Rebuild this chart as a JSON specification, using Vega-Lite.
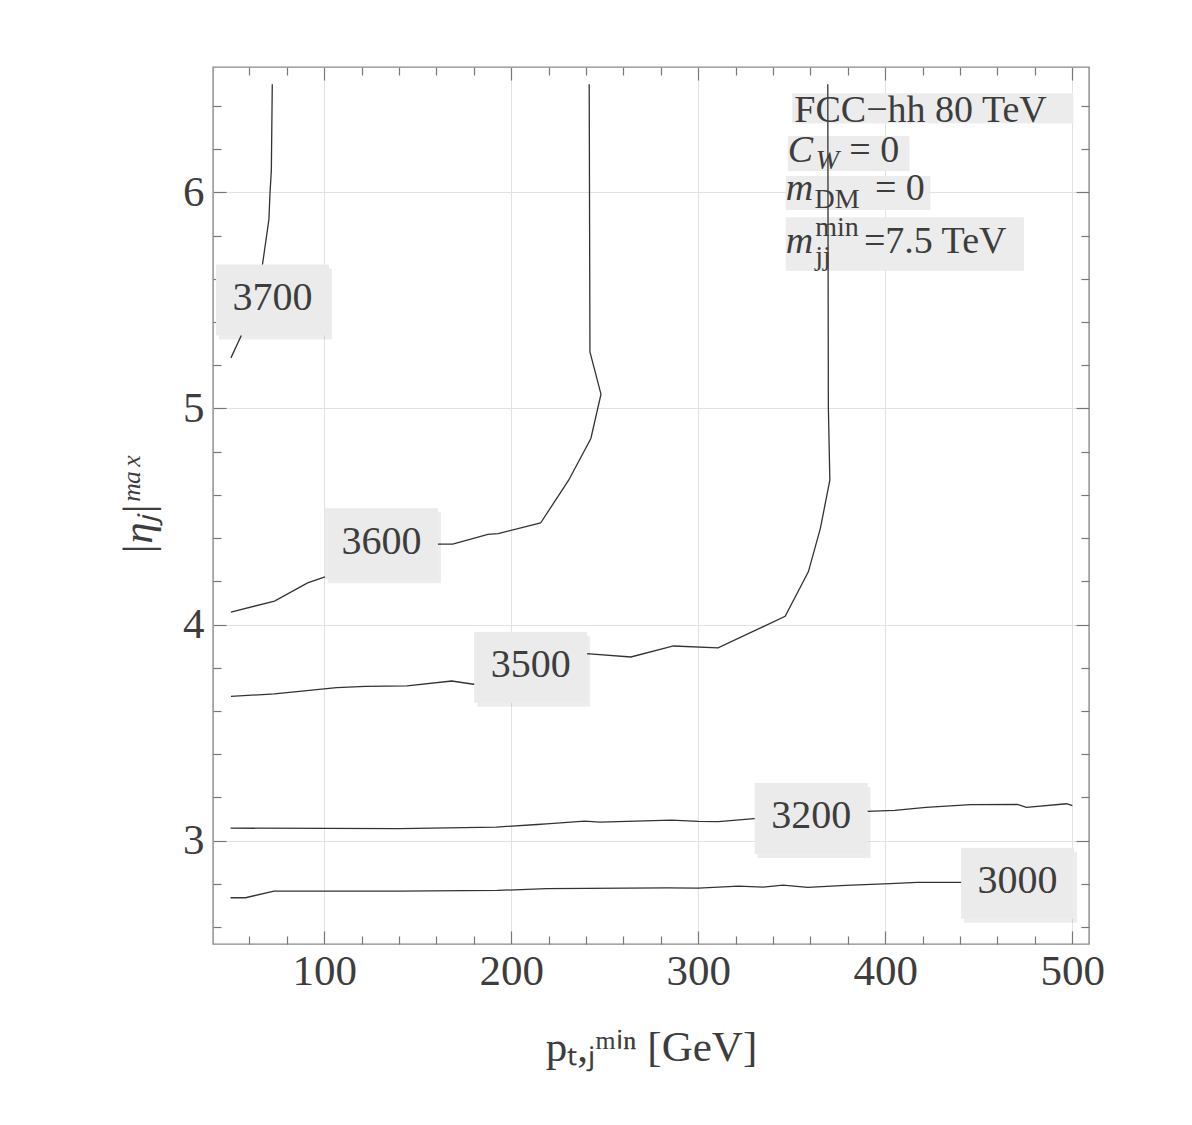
{
  "$schema": "https://vega.github.io/schema/vega-lite/v6.json",
  "width": 876,
  "height": 877,
  "autosize": {"type": "none"},
  "padding": {"left": 213, "top": 67, "right": 103, "bottom": 181},
  "background": "white",
  "config": {
    "view": {"stroke": "#8a8a8a", "strokeWidth": 1.4},
    "font": "Liberation Serif"
  },
  "datasets": {
    "contours": [
      {"c": "3700", "o": 1, "x": 72.2, "y": 6.5},
      {"c": "3700", "o": 2, "x": 71.7, "y": 6.1},
      {"c": "3700", "o": 3, "x": 71.0, "y": 6.0},
      {"c": "3700", "o": 4, "x": 70.4, "y": 5.875},
      {"c": "3700", "o": 5, "x": 67.0, "y": 5.668},
      {"c": "3700", "o": 6, "x": 55.5, "y": 5.335},
      {"c": "3700", "o": 7, "x": 50.1, "y": 5.234},
      {"c": "3600", "o": 1, "x": 50.1, "y": 4.058},
      {"c": "3600", "o": 2, "x": 73.4, "y": 4.109},
      {"c": "3600", "o": 3, "x": 91.1, "y": 4.193},
      {"c": "3600", "o": 4, "x": 100.0, "y": 4.22},
      {"c": "3600", "o": 5, "x": 160.4, "y": 4.372},
      {"c": "3600", "o": 6, "x": 168.7, "y": 4.372},
      {"c": "3600", "o": 7, "x": 187.5, "y": 4.417},
      {"c": "3600", "o": 8, "x": 193.0, "y": 4.421},
      {"c": "3600", "o": 9, "x": 215.7, "y": 4.47},
      {"c": "3600", "o": 10, "x": 230.7, "y": 4.668},
      {"c": "3600", "o": 11, "x": 242.6, "y": 4.861},
      {"c": "3600", "o": 12, "x": 248.0, "y": 5.066},
      {"c": "3600", "o": 13, "x": 242.1, "y": 5.262},
      {"c": "3600", "o": 14, "x": 241.7, "y": 6.5},
      {"c": "3500", "o": 1, "x": 50.1, "y": 3.668},
      {"c": "3500", "o": 2, "x": 73.4, "y": 3.679},
      {"c": "3500", "o": 3, "x": 106.6, "y": 3.708},
      {"c": "3500", "o": 4, "x": 122.1, "y": 3.714},
      {"c": "3500", "o": 5, "x": 144.3, "y": 3.716},
      {"c": "3500", "o": 6, "x": 168.2, "y": 3.739},
      {"c": "3500", "o": 7, "x": 179.8, "y": 3.724},
      {"c": "3500", "o": 8, "x": 240.3, "y": 3.866},
      {"c": "3500", "o": 9, "x": 264.0, "y": 3.85},
      {"c": "3500", "o": 10, "x": 286.8, "y": 3.901},
      {"c": "3500", "o": 11, "x": 310.6, "y": 3.892},
      {"c": "3500", "o": 12, "x": 346.5, "y": 4.038},
      {"c": "3500", "o": 13, "x": 358.9, "y": 4.244},
      {"c": "3500", "o": 14, "x": 365.3, "y": 4.444},
      {"c": "3500", "o": 15, "x": 370.4, "y": 4.668},
      {"c": "3500", "o": 16, "x": 369.6, "y": 5.007},
      {"c": "3500", "o": 17, "x": 369.3, "y": 6.5},
      {"c": "3200", "o": 1, "x": 49.9, "y": 3.058},
      {"c": "3200", "o": 2, "x": 140.1, "y": 3.056},
      {"c": "3200", "o": 3, "x": 192.0, "y": 3.063},
      {"c": "3200", "o": 4, "x": 213.9, "y": 3.075},
      {"c": "3200", "o": 5, "x": 218.9, "y": 3.078},
      {"c": "3200", "o": 6, "x": 239.2, "y": 3.091},
      {"c": "3200", "o": 7, "x": 247.5, "y": 3.086},
      {"c": "3200", "o": 8, "x": 285.7, "y": 3.095},
      {"c": "3200", "o": 9, "x": 300.1, "y": 3.089},
      {"c": "3200", "o": 10, "x": 310.8, "y": 3.088},
      {"c": "3200", "o": 11, "x": 329.9, "y": 3.102},
      {"c": "3200", "o": 12, "x": 390.1, "y": 3.136},
      {"c": "3200", "o": 13, "x": 405.1, "y": 3.14},
      {"c": "3200", "o": 14, "x": 421.8, "y": 3.154},
      {"c": "3200", "o": 15, "x": 445.7, "y": 3.167},
      {"c": "3200", "o": 16, "x": 470.7, "y": 3.168},
      {"c": "3200", "o": 17, "x": 475.5, "y": 3.154},
      {"c": "3200", "o": 18, "x": 497.0, "y": 3.171},
      {"c": "3200", "o": 19, "x": 500.1, "y": 3.162},
      {"c": "3000", "o": 1, "x": 49.9, "y": 2.736},
      {"c": "3000", "o": 2, "x": 57.9, "y": 2.736},
      {"c": "3000", "o": 3, "x": 73.1, "y": 2.767},
      {"c": "3000", "o": 4, "x": 140.1, "y": 2.767},
      {"c": "3000", "o": 5, "x": 192.6, "y": 2.77},
      {"c": "3000", "o": 6, "x": 218.9, "y": 2.778},
      {"c": "3000", "o": 7, "x": 283.4, "y": 2.782},
      {"c": "3000", "o": 8, "x": 300.1, "y": 2.781},
      {"c": "3000", "o": 9, "x": 321.6, "y": 2.79},
      {"c": "3000", "o": 10, "x": 334.7, "y": 2.785},
      {"c": "3000", "o": 11, "x": 345.4, "y": 2.794},
      {"c": "3000", "o": 12, "x": 358.6, "y": 2.784},
      {"c": "3000", "o": 13, "x": 378.8, "y": 2.793},
      {"c": "3000", "o": 14, "x": 402.7, "y": 2.801},
      {"c": "3000", "o": 15, "x": 417.1, "y": 2.807},
      {"c": "3000", "o": 16, "x": 439.7, "y": 2.807},
      {"c": "3000", "o": 17, "x": 500.0, "y": 2.81}
    ],
    "labels": [
      {"t": "3700", "x": 72.3, "y": 5.502},
      {"t": "3600", "x": 130.6, "y": 4.374},
      {"t": "3500", "x": 210.4, "y": 3.803},
      {"t": "3200", "x": 360.4, "y": 3.103},
      {"t": "3000", "x": 470.8, "y": 2.803}
    ],
    "annboxes": [
      {"line": 1, "x0": 350.3, "x1": 500.6, "y0": 6.458, "y1": 6.32},
      {"line": 2, "x0": 347.9, "x1": 412.9, "y0": 6.261, "y1": 6.099},
      {"line": 3, "x0": 346.8, "x1": 424.1, "y0": 6.076, "y1": 5.918},
      {"line": 4, "x0": 346.8, "x1": 474.2, "y0": 5.885, "y1": 5.637}
    ],
    "ann": [
      {"k": "rm", "t": "FCC−hh 80 TeV", "x": 351.4, "y": 6.327},
      {"k": "it", "t": "C", "x": 347.9, "y": 6.139},
      {"k": "subit", "t": "W", "x": 362.8, "y": 6.108},
      {"k": "rm", "t": "= 0", "x": 380.8, "y": 6.139},
      {"k": "it", "t": "m", "x": 346.8, "y": 5.963},
      {"k": "sub", "t": "DM", "x": 362.2, "y": 5.929},
      {"k": "rm", "t": "= 0", "x": 394.5, "y": 5.963},
      {"k": "it", "t": "m", "x": 346.8, "y": 5.718},
      {"k": "sub", "t": "min", "x": 362.6, "y": 5.796},
      {"k": "sub", "t": "jj", "x": 362.6, "y": 5.664},
      {"k": "rm", "t": "=7.5 TeV", "x": 388.6, "y": 5.718}
    ]
  },
  "resolve": {"axis": {"x": "independent", "y": "independent"}},
  "layer": [
    {
      "data": {"name": "annboxes"},
      "mark": {"type": "rect", "fill": "#000000", "opacity": 0.07, "xOffset": 3, "yOffset": 3},
      "encoding": {
        "x": {"field": "x0", "type": "quantitative", "scale": {"domain": [40.5, 509], "nice": false, "zero": false},
          "axis": {"orient": "bottom", "values": [60,80,120,140,160,180,220,240,260,280,320,340,360,380,420,440,460,480], "ticks": true, "tickSize": -8, "tickColor": "#777777", "tickWidth": 1.2, "labels": false, "domain": false, "grid": false, "title": null}},
        "x2": {"field": "x1"},
        "y": {"field": "y0", "type": "quantitative", "scale": {"domain": [2.522, 6.58], "nice": false, "zero": false},
          "axis": {"orient": "left", "values": [2.6,2.8,3.2,3.4,3.6,3.8,4.2,4.4,4.6,4.8,5.2,5.4,5.6,5.8,6.2,6.4], "ticks": true, "tickSize": -8, "tickColor": "#777777", "tickWidth": 1.2, "labels": false, "domain": false, "grid": false, "title": null}},
        "y2": {"field": "y1"}
      }
    },
    {
      "data": {"name": "annboxes"},
      "mark": {"type": "rect", "fill": "#ececec"},
      "encoding": {
        "x": {"field": "x0", "type": "quantitative", "scale": {"domain": [40.5, 509], "nice": false, "zero": false},
          "axis": {"orient": "bottom", "values": [100,200,300,400,500], "ticks": true, "tickSize": -13, "tickColor": "#777777", "tickWidth": 1.2, "labels": false, "domain": false, "grid": false, "title": null}},
        "x2": {"field": "x1"},
        "y": {"field": "y0", "type": "quantitative", "scale": {"domain": [2.522, 6.58], "nice": false, "zero": false},
          "axis": {"orient": "left", "values": [3,4,5,6], "ticks": true, "tickSize": -13, "tickColor": "#777777", "tickWidth": 1.2, "labels": false, "domain": false, "grid": false, "title": null}},
        "y2": {"field": "y1"}
      }
    },
    {
      "data": {"name": "contours"},
      "mark": {"type": "line", "color": "#333333", "strokeWidth": 1.3},
      "encoding": {
        "x": {"field": "x", "type": "quantitative", "scale": {"domain": [40.5, 509], "nice": false, "zero": false},
          "axis": {"orient": "bottom", "values": [100,200,300,400,500], "ticks": false, "domain": false, "grid": true, "gridColor": "#e2e2e2", "gridWidth": 1,
            "labelFont": "Liberation Serif", "labelFontSize": 43, "labelColor": "#3d3d3d", "labelPadding": 6, "labelFlush": false, "labelOverlap": false,
            "title": "pₜ,ⱼᵐⁱⁿ [GeV]", "titleFont": "Liberation Serif", "titleFontSize": 43, "titleFontWeight": "normal", "titleColor": "#3d3d3d", "titlePadding": 33}},
        "y": {"field": "y", "type": "quantitative", "scale": {"domain": [2.522, 6.58], "nice": false, "zero": false},
          "axis": {"orient": "left", "values": [3,4,5,6], "ticks": false, "domain": false, "grid": true, "gridColor": "#e2e2e2", "gridWidth": 1,
            "labelFont": "Liberation Serif", "labelFontSize": 43, "labelColor": "#3d3d3d", "labelPadding": 9, "labelFlush": false, "labelOverlap": false,
            "title": "|ηⱼ|ᵐᵃˣ", "titleFont": "Liberation Serif", "titleFontSize": 43, "titleFontWeight": "normal", "titleFontStyle": "italic", "titleColor": "#3d3d3d", "titlePadding": 22}},
        "detail": {"field": "c"},
        "order": {"field": "o", "type": "quantitative"}
      }
    },
    {
      "data": {"name": "labels"},
      "mark": {"type": "rect", "width": 113, "height": 71, "fill": "#000000", "opacity": 0.07, "xOffset": 3, "yOffset": 4},
      "encoding": {
        "x": {"field": "x", "type": "quantitative", "scale": {"domain": [40.5, 509], "nice": false, "zero": false},
          "axis": {"orient": "top", "values": [60,80,120,140,160,180,220,240,260,280,320,340,360,380,420,440,460,480], "ticks": true, "tickSize": -8, "tickColor": "#777777", "tickWidth": 1.2, "labels": false, "domain": false, "grid": false, "title": null}},
        "y": {"field": "y", "type": "quantitative", "scale": {"domain": [2.522, 6.58], "nice": false, "zero": false},
          "axis": {"orient": "right", "values": [2.6,2.8,3.2,3.4,3.6,3.8,4.2,4.4,4.6,4.8,5.2,5.4,5.6,5.8,6.2,6.4], "ticks": true, "tickSize": -8, "tickColor": "#777777", "tickWidth": 1.2, "labels": false, "domain": false, "grid": false, "title": null}}
      }
    },
    {
      "data": {"name": "labels"},
      "mark": {"type": "rect", "width": 113, "height": 71, "fill": "#ebebeb"},
      "encoding": {
        "x": {"field": "x", "type": "quantitative", "scale": {"domain": [40.5, 509], "nice": false, "zero": false},
          "axis": {"orient": "top", "values": [100,200,300,400,500], "ticks": true, "tickSize": -13, "tickColor": "#777777", "tickWidth": 1.2, "labels": false, "domain": false, "grid": false, "title": null}},
        "y": {"field": "y", "type": "quantitative", "scale": {"domain": [2.522, 6.58], "nice": false, "zero": false},
          "axis": {"orient": "right", "values": [3,4,5,6], "ticks": true, "tickSize": -13, "tickColor": "#777777", "tickWidth": 1.2, "labels": false, "domain": false, "grid": false, "title": null}}
      }
    },
    {
      "data": {"name": "labels"},
      "mark": {"type": "text", "font": "Liberation Serif", "fontSize": 40, "color": "#3d3d3d", "align": "center", "baseline": "middle", "dy": -2},
      "encoding": {
        "x": {"field": "x", "type": "quantitative", "scale": {"domain": [40.5, 509], "nice": false, "zero": false}, "axis": null},
        "y": {"field": "y", "type": "quantitative", "scale": {"domain": [2.522, 6.58], "nice": false, "zero": false}, "axis": null},
        "text": {"field": "t"}
      }
    },
    {
      "data": {"name": "ann"},
      "transform": [{"filter": "datum.k === 'rm'"}],
      "mark": {"type": "text", "font": "Liberation Serif", "fontSize": 38, "color": "#3d3d3d", "align": "left", "baseline": "alphabetic"},
      "encoding": {
        "x": {"field": "x", "type": "quantitative", "scale": {"domain": [40.5, 509], "nice": false, "zero": false}, "axis": null},
        "y": {"field": "y", "type": "quantitative", "scale": {"domain": [2.522, 6.58], "nice": false, "zero": false}, "axis": null},
        "text": {"field": "t"}
      }
    },
    {
      "data": {"name": "ann"},
      "transform": [{"filter": "datum.k === 'it'"}],
      "mark": {"type": "text", "font": "Liberation Serif", "fontSize": 38, "fontStyle": "italic", "color": "#3d3d3d", "align": "left", "baseline": "alphabetic"},
      "encoding": {
        "x": {"field": "x", "type": "quantitative", "scale": {"domain": [40.5, 509], "nice": false, "zero": false}, "axis": null},
        "y": {"field": "y", "type": "quantitative", "scale": {"domain": [2.522, 6.58], "nice": false, "zero": false}, "axis": null},
        "text": {"field": "t"}
      }
    },
    {
      "data": {"name": "ann"},
      "transform": [{"filter": "datum.k === 'sub'"}],
      "mark": {"type": "text", "font": "Liberation Serif", "fontSize": 28, "color": "#3d3d3d", "align": "left", "baseline": "alphabetic"},
      "encoding": {
        "x": {"field": "x", "type": "quantitative", "scale": {"domain": [40.5, 509], "nice": false, "zero": false}, "axis": null},
        "y": {"field": "y", "type": "quantitative", "scale": {"domain": [2.522, 6.58], "nice": false, "zero": false}, "axis": null},
        "text": {"field": "t"}
      }
    },
    {
      "data": {"name": "ann"},
      "transform": [{"filter": "datum.k === 'subit'"}],
      "mark": {"type": "text", "font": "Liberation Serif", "fontSize": 28, "fontStyle": "italic", "color": "#3d3d3d", "align": "left", "baseline": "alphabetic"},
      "encoding": {
        "x": {"field": "x", "type": "quantitative", "scale": {"domain": [40.5, 509], "nice": false, "zero": false}, "axis": null},
        "y": {"field": "y", "type": "quantitative", "scale": {"domain": [2.522, 6.58], "nice": false, "zero": false}, "axis": null},
        "text": {"field": "t"}
      }
    }
  ]
}
